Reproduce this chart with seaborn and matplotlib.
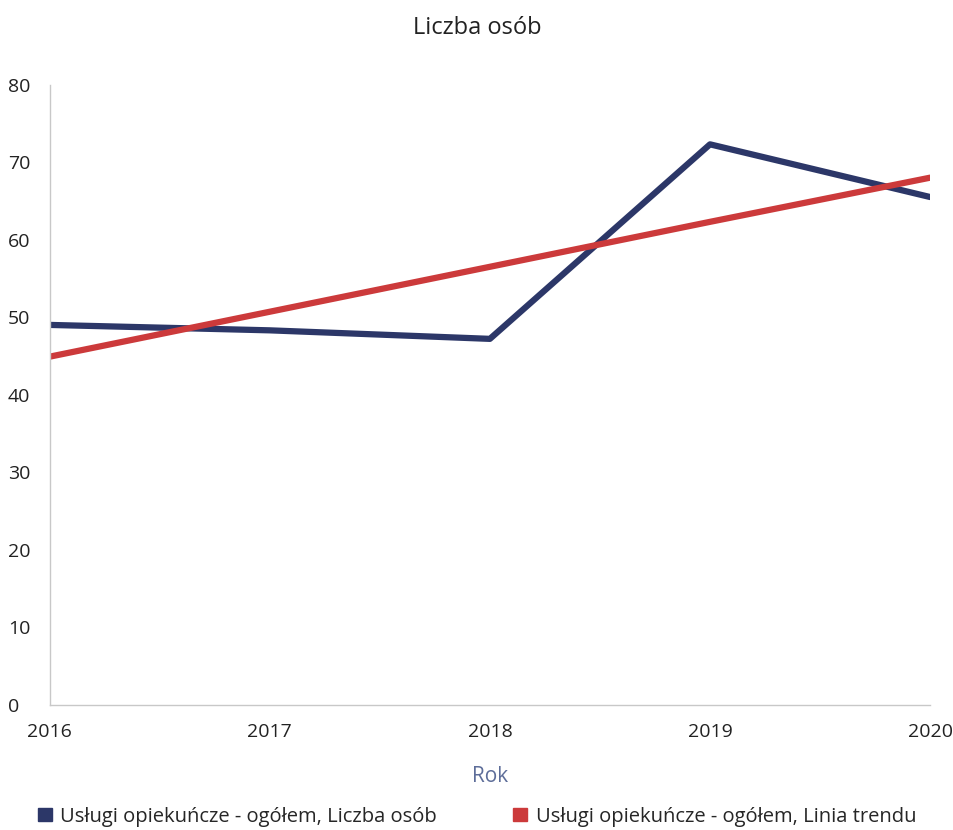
import matplotlib.pyplot as plt
import pandas as pd
import seaborn as sns

years = [2016, 2017, 2018, 2019, 2020]
liczba_osob = [49.0, 48.3, 47.2, 72.3, 65.5]
linia_trendu = [44.9, 50.7, 56.5, 62.3, 68.0]
labels = ['Usługi opiekuńcze - ogółem, Liczba osób',
          'Usługi opiekuńcze - ogółem, Linia trendu']
yticks = [0, 10, 20, 30, 40, 50, 60, 70, 80]

sns.set_style('white')
plt.rcParams['font.family'] = ['Open Sans', 'DejaVu Sans']

df = pd.DataFrame({'Rok': years * 2,
                   'value': liczba_osob + linia_trendu,
                   'series': [labels[0]] * 5 + [labels[1]] * 5})

fig = plt.figure(figsize=(9.54, 8.3), dpi=100)
ax = fig.add_axes([0.052, 0.151, 0.923, 0.747])
sns.lineplot(data=df, x='Rok', y='value', hue='series',
             palette=['#2c3768', '#cc3a3b'], linewidth=4.5, ax=ax, legend=False)

ax.set_xlim(2016, 2020)
ax.set_ylim(0, 80)
ax.set_xticks(years)
ax.set_yticks(yticks)
ax.tick_params(length=0, labelsize=14, colors='#222222')
ax.tick_params(axis='y', pad=30)
for t in ax.get_yticklabels():
    t.set_horizontalalignment('left')
ax.tick_params(axis='x', pad=13)
sns.despine(ax=ax)
for s in ['left', 'bottom']:
    ax.spines[s].set_color('#c8c8c8')
    ax.spines[s].set_linewidth(1)

ax.set_ylabel('')
ax.set_xlabel('Rok', color='#5d6d99', fontsize=15, labelpad=18)
fig.text(0.5, 0.966, 'Liczba osób', ha='center', va='center', fontsize=17, color='#222222')

handles = [plt.Rectangle((0, 0), 1, 1, color='#2c3768'),
           plt.Rectangle((0, 0), 1, 1, color='#cc3a3b')]
fig.legend(handles, labels, loc='center', bbox_to_anchor=(0.5, 0.016), ncol=2,
           frameon=False, fontsize=14.5, handlelength=0.7, handleheight=0.6,
           handletextpad=0.4, columnspacing=3.8)

fig.savefig('out.png', dpi=100)
